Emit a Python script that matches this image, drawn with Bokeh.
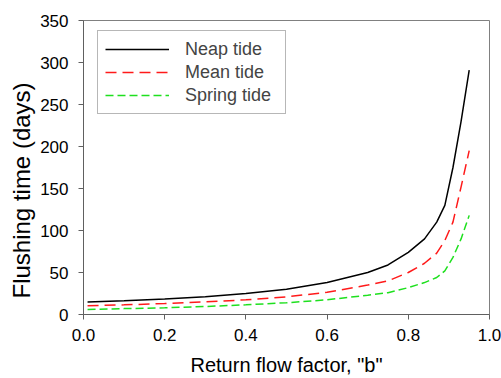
from bokeh.plotting import figure
from bokeh.models import Range1d, FixedTicker, Legend, LegendItem, Title, CustomJSTickFormatter
from bokeh.embed import file_html
from bokeh.resources import INLINE

# Data
b = [0.01, 0.1, 0.2, 0.3, 0.4, 0.5, 0.6, 0.7, 0.75, 0.8, 0.84, 0.87, 0.89, 0.91, 0.93, 0.95]
neap = [15, 16.5, 18.5, 21, 25, 30, 38, 50, 59, 74, 90, 110, 130, 175, 230, 291]
mean = [10.5, 11.5, 13, 15, 17.5, 21, 26.5, 35, 40, 50, 61, 73, 88, 110, 152, 195]
spring = [6, 7, 8, 9.5, 11.5, 14, 17.5, 23, 26, 32, 38, 44, 52, 68, 90, 118]

x_ticks = [0.0, 0.2, 0.4, 0.6, 0.8, 1.0]
y_ticks = [0, 50, 100, 150, 200, 250, 300, 350]
series_names = ["Neap tide", "Mean tide", "Spring tide"]
x_title = 'Return flow factor, "b"'
y_title = "Flushing time (days)"

FONT = "Liberation Sans"
AX = "#606060"

p = figure(width=501, height=378, output_backend="svg", toolbar_location=None,
           x_range=Range1d(0, 1.0), y_range=Range1d(0, 350),
           min_border_left=83, min_border_right=12, min_border_top=20, min_border_bottom=64)
p.xgrid.visible = False
p.ygrid.visible = False
p.outline_line_color = "#808080"
p.outline_line_width = 1
p.background_fill_color = "white"
p.border_fill_color = "white"

for ax in (p.xaxis[0], p.yaxis[0]):
    ax.axis_line_color = AX
    ax.major_tick_line_color = AX
    ax.minor_tick_line_color = None
    ax.major_tick_in = 0
    ax.major_tick_out = 5
    ax.major_label_text_font = FONT
    ax.major_label_text_font_size = "17px"
    ax.major_label_text_color = "black"

p.xaxis.ticker = FixedTicker(ticks=x_ticks)
p.yaxis.ticker = FixedTicker(ticks=y_ticks)
p.xaxis.formatter = CustomJSTickFormatter(code="return tick.toFixed(1);")
p.xaxis.major_label_standoff = 9
p.yaxis.major_label_standoff = 10

p.xaxis.axis_label = x_title
p.xaxis.axis_label_text_font = FONT
p.xaxis.axis_label_text_font_size = "20px"
p.xaxis.axis_label_text_font_style = "normal"
p.xaxis.axis_label_text_color = "black"
p.xaxis.axis_label_standoff = 10

r1 = p.line(b, neap, line_color="black", line_width=1.5)
r2 = p.line(b, mean, line_color="#ff1a1a", line_width=1.5, line_dash="11 6")
r3 = p.line(b, spring, line_color="#1ee01e", line_width=1.5, line_dash="8 4")

ytitle = Title(text=y_title, align="left", offset=16, text_font=FONT,
               text_font_size="24px", text_font_style="normal", text_color="black",
               standoff=4, vertical_align="middle")
p.add_layout(ytitle, "left")

legend = Legend(items=[LegendItem(label=series_names[0], renderers=[r1]),
                       LegendItem(label=series_names[1], renderers=[r2]),
                       LegendItem(label=series_names[2], renderers=[r3])],
                location=(14, 200), margin=0, padding=7, spacing=1,
                glyph_width=64, glyph_height=22, label_height=22, label_width=93,
                label_standoff=16, label_text_font=FONT, label_text_font_size="18px",
                border_line_color="#707070", border_line_width=1,
                background_fill_color="white", background_fill_alpha=1)
p.add_layout(legend, "center")

open("out.html", "w").write(file_html(p, INLINE))
